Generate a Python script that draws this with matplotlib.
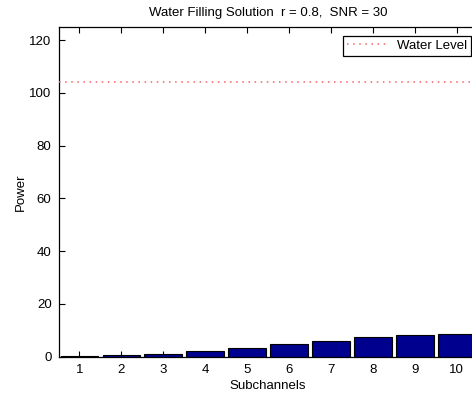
import numpy as np
import matplotlib
matplotlib.use('agg')
import matplotlib.pyplot as plt

plt.rcParams['font.family'] = ['Liberation Sans', 'DejaVu Sans']

# data
subchannels = [1, 2, 3, 4, 5, 6, 7, 8, 9, 10]
power = [0.1, 0.5, 1.1, 2.0, 3.2, 4.7, 6.0, 7.3, 8.1, 8.7]
water_level = 104.3
y_ticks = [0, 20, 40, 60, 80, 100, 120]

fig = plt.figure(figsize=(4.72, 3.94), dpi=100)
# axes run a bit past the right edge of the figure, like the reference
ax = fig.add_axes([0.124, 0.0947, 0.888, 0.8368])

ax.bar(subchannels, power, width=0.9, color='#00008F', edgecolor='black', lw=0.8, zorder=2)
ax.plot([0.5, 10.5], [water_level, water_level], ls=(0, (1, 3)), lw=1.1,
        color='#FF6060', label='Water Level', zorder=3)

ax.set_xlim(0.5, 10.5)
ax.set_ylim(0, 125)
ax.set_xticks(subchannels)
ax.set_yticks(y_ticks)
ax.tick_params(direction='in', length=4, width=0.8, top=True, right=True,
               labelsize=9.5)
ax.tick_params(axis='x', pad=5)
ax.tick_params(axis='y', pad=5)
for s in ax.spines.values():
    s.set_linewidth(0.9)

ax.set_xlabel('Subchannels', fontsize=9.5, labelpad=3)
ax.set_ylabel('Power', fontsize=9.5, labelpad=2)
ax.set_title('Water Filling Solution  r = 0.8,  SNR = 30', fontsize=9.5, pad=8)

leg = ax.legend(loc='upper right', bbox_to_anchor=(0.99, 0.982), fontsize=9.5,
                fancybox=False, framealpha=1, edgecolor='black',
                handlelength=3, borderpad=0.3, borderaxespad=0.2)
leg.get_frame().set_linewidth(0.9)

plt.savefig('out.png', dpi=100)
plt.close()
